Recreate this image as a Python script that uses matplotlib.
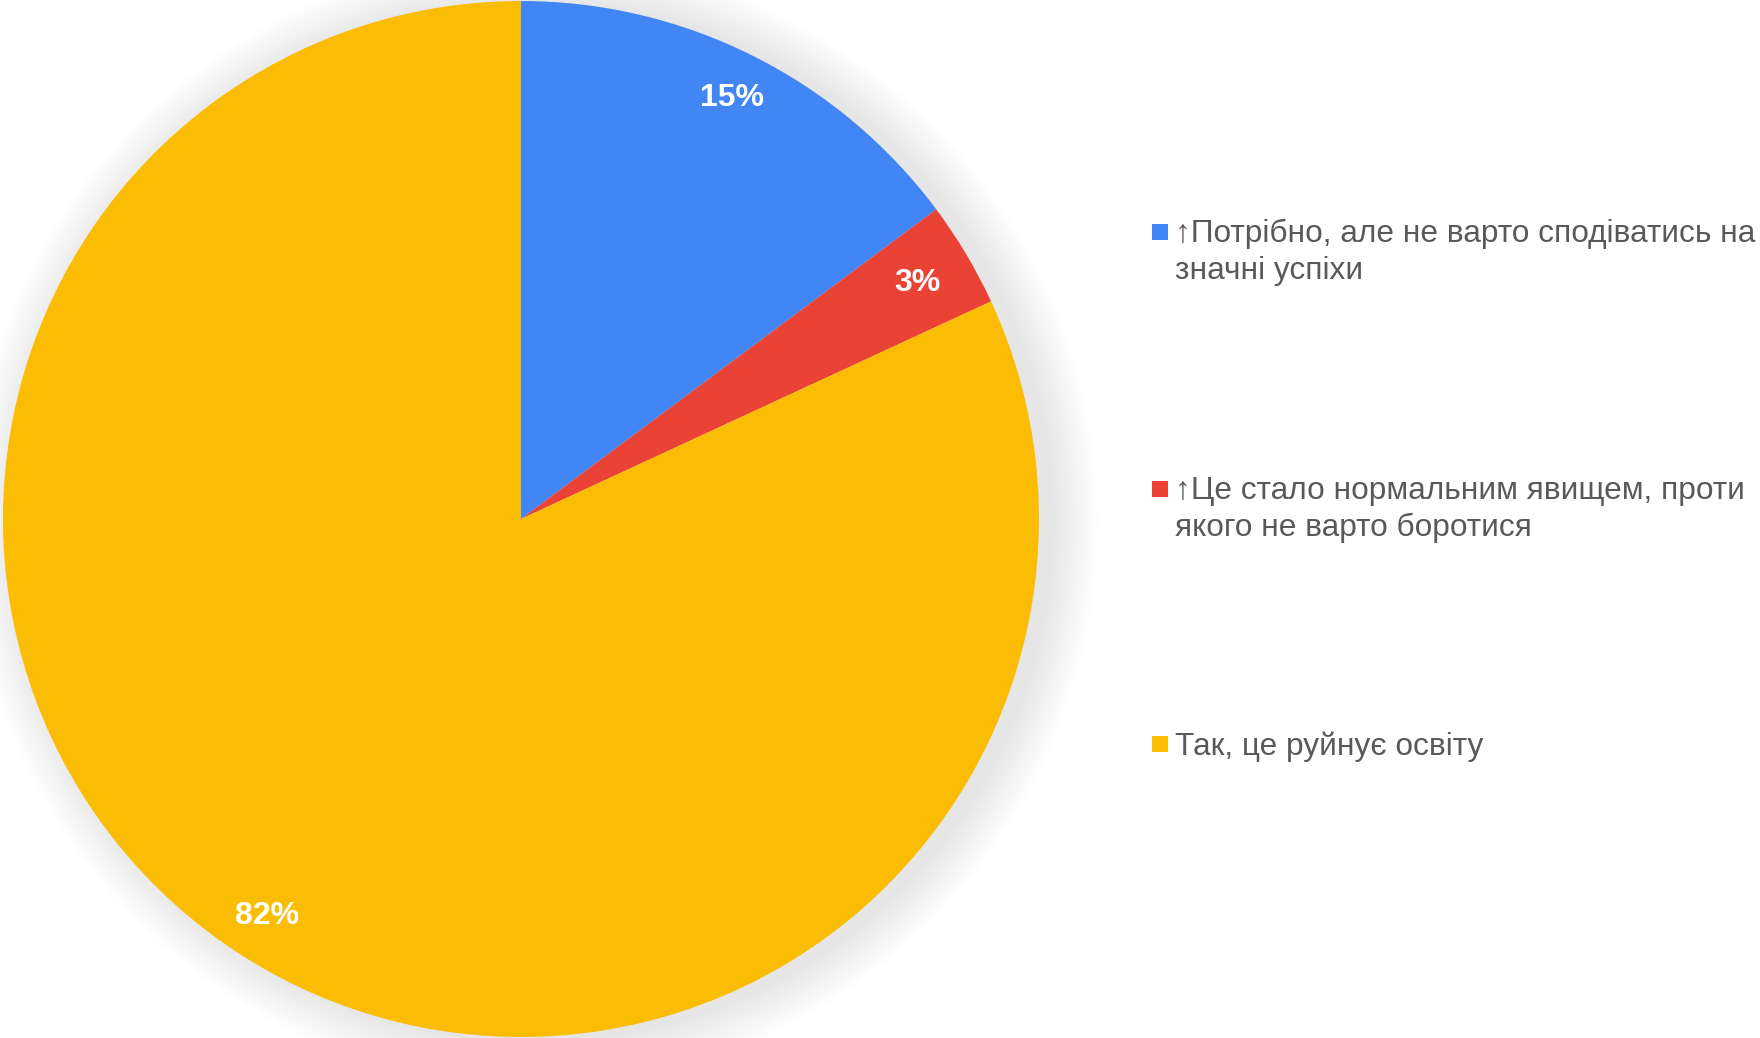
import matplotlib
matplotlib.use("Agg")
import matplotlib.pyplot as plt
from matplotlib.patches import Circle, Rectangle
import numpy as np

categories = [
    "\u2191Потрібно, але не варто сподіватись на\nзначні успіхи",
    "\u2191Це стало нормальним явищем, проти\nякого не варто боротися",
    "Так, це руйнує освіту",
]
values = [14.8, 3.3, 81.9]
pct_labels = ["15%", "3%", "82%"]
colors = ["#4285F4", "#EA4335", "#FBBC04"]

FAM = ["Liberation Sans", "DejaVu Sans"]

W, H = 1760, 1038
fig = plt.figure(figsize=(W / 100, H / 100), dpi=100)
fig.patch.set_facecolor("white")

cx, cy, r = 521, 519, 518
pad = 1.15
ax = fig.add_axes([(cx - r * pad) / W, (H - cy - r * pad) / H, 2 * r * pad / W, 2 * r * pad / H])

wedges, texts, autotexts = ax.pie(
    values, colors=colors, startangle=90, counterclock=False, radius=1.0,
    autopct=lambda p: "", pctdistance=0.91,
    wedgeprops=dict(linewidth=0, edgecolor="none"),
)
ax.set_xlim(-pad, pad)
ax.set_ylim(-pad, pad)
ax.set_aspect("equal")
ax.axis("off")

# soft shadow
n = 25
for i in range(n):
    rr = 1.0 + 0.09 * (i + 1) / n
    ax.add_patch(Circle((0.025, -0.005), rr, facecolor="black", edgecolor="none",
                        alpha=0.0042, zorder=0))

for w in wedges:
    w.set_zorder(2)
for t, lab in zip(autotexts, pct_labels):
    t.set_text(lab)
    t.set_color("white")
    t.set_fontweight("bold")
    t.set_fontsize(23)
    t.set_family(FAM)
    t.set_zorder(3)
# small slice label sits slightly closer to the centre
x3, y3 = autotexts[1].get_position()
autotexts[1].set_position((x3 * 0.89 / 0.91, y3 * 0.89 / 0.91))

# legend
legend_y = [232, 489, 744]
for lab, col, y in zip(categories, colors, legend_y):
    fig.patches.append(Rectangle((1152 / W, 1 - (y + 8) / H), 16 / W, 16 / H,
                                 transform=fig.transFigure, facecolor=col,
                                 edgecolor="none"))
    fig.text(1175 / W, 1 - (y - 13) / H, lab, fontsize=22.8, color="#595959",
             family=FAM, va="top", ha="left", linespacing=1.28)

fig.savefig("out.png", dpi=100, facecolor="white")
